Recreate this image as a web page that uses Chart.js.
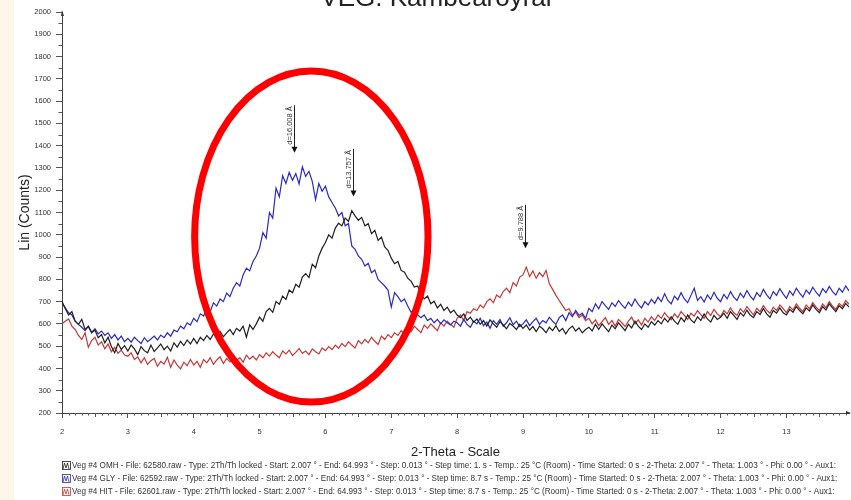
<!DOCTYPE html>
<html>
<head>
<meta charset="utf-8">
<script src="https://cdn.jsdelivr.net/npm/chart.js@4.4.0/dist/chart.umd.min.js"></script>
<style>
  html, body { margin: 0; padding: 0; background: #fff; }
</style>
</head>
<body>
<canvas id="xrdChart" width="851" height="500"></canvas>
<script>
// counts, one value every 0.05 deg 2-theta from 2.00 to 13.95
const omh = [
  700, 668, 640, 655, 612, 598, 620, 575, 588, 560, 572, 538, 552, 515, 540, 498, 470, 512, 485, 502,
  478, 505, 488, 462, 498, 480, 470, 505, 476, 492, 510, 484, 500, 478, 515, 496, 522, 503, 528, 510,
  535, 512, 540, 525, 548, 530, 555, 538, 566, 542, 560, 575, 552, 580, 568, 590, 540, 596, 575, 600,
  630, 612, 655, 670, 652, 700, 688, 725, 710, 752, 740, 778, 765, 810, 826, 808, 868, 852, 905, 940,
  965, 1000, 985, 1030, 1052, 1040, 1075, 1060, 1108, 1085, 1065, 1078, 1040, 1050, 1005, 1020, 975, 990, 945, 930,
  895, 870, 880, 840, 832, 805, 792, 765, 770, 735, 712, 725, 690, 702, 672, 688, 660, 675, 650, 662,
  640, 628, 645, 615, 630, 608, 622, 598, 615, 590, 618, 600, 585, 610, 595, 578, 602, 590, 575, 598,
  580, 595, 572, 588, 565, 590, 578, 560, 585, 570, 592, 566, 580, 555, 578, 590, 568, 582, 560, 575,
  585, 568, 598, 575, 600, 582, 565, 595, 578, 605, 588, 570, 598, 582, 612, 590, 575, 600, 585, 610,
  595, 615, 600, 625, 608, 632, 612, 598, 628, 610, 640, 618, 605, 632, 615, 645, 622, 608, 638, 620,
  630, 648, 625, 655, 638, 620, 650, 635, 662, 640, 628, 655, 642, 668, 645, 630, 660, 648, 672, 650,
  640, 665, 652, 678, 660, 645, 672, 658, 685, 665, 650, 678, 662, 690, 672, 655, 682, 668, 692, 675
];
const gly = [
  695, 672, 650, 640, 612, 598, 585, 570, 590, 562, 578, 555, 568, 548, 560, 535, 552, 528, 545, 520,
  535, 518, 540, 525, 512, 538, 520, 532, 545, 528, 550, 538, 560, 545, 572, 565, 590, 578, 605, 595,
  625, 610, 645, 635, 668, 655, 695, 680, 712, 700, 738, 722, 760, 785, 770, 820, 850, 838, 880, 905,
  940, 1010, 985, 1100, 1075, 1210, 1170, 1265, 1230, 1280, 1245, 1275, 1228, 1305, 1262, 1285, 1240, 1158, 1230, 1195,
  1218, 1170, 1145, 1120, 1085, 1100, 1040, 1050, 950, 935, 905, 890, 860, 872, 830, 842, 800, 785, 770, 752,
  675, 740, 722, 700, 712, 680, 652, 668, 640, 628, 640, 615, 625, 605, 620, 600, 618, 605, 595, 612,
  605, 590, 620, 598, 585, 612, 600, 625, 592, 608, 580, 615, 598, 620, 590, 605, 628, 596, 612, 588,
  600, 618, 592, 610, 625, 598, 615, 605, 630, 612, 598, 628, 640, 615, 650, 632, 660, 638, 648, 625,
  670, 655, 690, 668, 700, 682, 665, 695, 678, 705, 685, 670, 698, 680, 712, 688, 672, 700, 685, 710,
  692, 720, 700, 735, 705, 690, 725, 708, 740, 712, 695, 728, 760, 705, 722, 698, 730, 710, 742, 715,
  700, 732, 712, 745, 720, 705, 738, 718, 750, 725, 708, 740, 722, 755, 730, 712, 745, 728, 758, 735,
  715, 748, 728, 760, 738, 720, 752, 735, 765, 742, 725, 758, 740, 768, 745, 730, 760, 742, 770, 748
];
const hit = [
  600, 612, 622, 590, 575, 548, 530, 560, 495, 525, 540, 505, 520, 488, 510, 475, 495, 468, 482, 460,
  455, 470, 440, 452, 425, 448, 418, 435, 445, 410, 432, 420, 450, 405, 438, 415, 398, 428, 412, 440,
  415, 432, 405, 440, 425, 448, 418, 438, 452, 422, 445, 430, 455, 435, 448, 428, 460, 442, 455, 438,
  462, 448, 470, 455, 475, 460, 448, 478, 465, 482, 458, 472, 490, 468, 478, 462, 488, 475, 465, 492,
  480, 498, 485, 505, 490, 512, 498, 520, 505, 492, 525, 510, 530, 515, 540, 522, 508, 545, 530, 552,
  538, 560, 548, 570, 555, 582, 565, 590, 575, 560, 595, 580, 600, 585, 570, 605, 590, 612, 598, 585,
  625, 640, 615, 655, 648, 668, 660, 685, 672, 700, 712, 695, 730, 718, 745, 760, 740, 785, 770, 810,
  820, 855, 812, 838, 805, 830, 812, 840, 780, 755, 728, 705, 682, 660, 668, 640, 652, 628, 640, 615,
  625, 600, 618, 592, 610, 628, 598, 615, 590, 620, 605, 588, 612, 630, 600, 618, 595, 625, 608, 632,
  615, 640, 625, 650, 632, 618, 645, 628, 655, 638, 620, 648, 635, 660, 642, 625, 655, 638, 665, 645,
  632, 660, 645, 672, 650, 638, 668, 652, 678, 658, 640, 670, 655, 682, 662, 648, 675, 660, 685, 668,
  650, 678, 662, 690, 670, 655, 685, 668, 695, 675, 660, 690, 672, 700, 680, 665, 692, 678, 705, 688
];
const twoTheta = omh.map((_, i) => +(2 + i * 0.05).toFixed(2));

const seriesNames = [
  "Veg #4 OMH - File: 62580.raw - Type: 2Th/Th locked - Start: 2.007 ° - End: 64.993 ° - Step: 0.013 ° - Step time: 1. s - Temp.: 25 °C (Room) - Time Started: 0 s - 2-Theta: 2.007 ° - Theta: 1.003 ° - Phi: 0.00 ° - Aux1:",
  "Veg #4 GLY - File: 62592.raw - Type: 2Th/Th locked - Start: 2.007 ° - End: 64.993 ° - Step: 0.013 ° - Step time: 8.7 s - Temp.: 25 °C (Room) - Time Started: 0 s - 2-Theta: 2.007 ° - Theta: 1.003 ° - Phi: 0.00 ° - Aux1:",
  "Veg #4 HIT - File: 62601.raw - Type: 2Th/Th locked - Start: 2.007 ° - End: 64.993 ° - Step: 0.013 ° - Step time: 8.7 s - Temp.: 25 °C (Room) - Time Started: 0 s - 2-Theta: 2.007 ° - Theta: 1.003 ° - Phi: 0.00 ° - Aux1:"
];
const seriesColors = ["#1e1e1e", "#2a2ac4", "#c43838"];

const xTicks = [2, 3, 4, 5, 6, 7, 8, 9, 10, 11, 12, 13];
const yTicks = [200, 300, 400, 500, 600, 700, 800, 900, 1000, 1100, 1200, 1300, 1400, 1500, 1600, 1700, 1800, 1900, 2000];

// d-spacing markers: label, 2-theta, counts at arrow tip
const peakLabels = ["d=16.008 Å", "d=13.757 Å", "d=9.788 Å"];
const peakTheta = [5.516, 6.42, 9.03];
const peakTip = [1368, 1172, 940];

// hand-drawn red ring (centre and radii in data units)
const ring = { x: 5.786, y: 992, rx: 1.772, ry: 743 };

const FONT = "'Liberation Sans', Arial, sans-serif";

const decorations = {
  id: "decorations",
  beforeDraw(chart) {
    const { ctx, width, height } = chart;
    ctx.save();
    ctx.fillStyle = "#fff";
    ctx.fillRect(0, 0, width, height);
    ctx.fillStyle = "#fdf7ea";
    ctx.fillRect(0, 0, 14, height);
    ctx.restore();
  },
  afterDraw(chart) {
    const { ctx } = chart;
    const x = chart.scales.x, y = chart.scales.y;
    const bottom = chart.chartArea.bottom, left = chart.chartArea.left;
    ctx.save();

    // minor ticks
    ctx.strokeStyle = "#555";
    ctx.lineWidth = 1;
    ctx.beginPath();
    for (let k = 20; k < 140; k++) {
      if (k % 10 === 0) continue;
      const px = Math.round(x.getPixelForValue(k / 10)) + 0.5;
      const len = k % 5 === 0 ? 4 : 2.5;
      ctx.moveTo(px, bottom);
      ctx.lineTo(px, bottom + len);
    }
    for (let v = 250; v < 2000; v += 100) {
      const py = Math.round(y.getPixelForValue(v)) + 0.5;
      ctx.moveTo(left - 3.5, py);
      ctx.lineTo(left, py);
    }
    ctx.stroke();

    // axis arrow heads
    ctx.fillStyle = "#333";
    ctx.beginPath();
    ctx.moveTo(left, y.top - 2);
    ctx.lineTo(left + 2, y.top + 4);
    ctx.lineTo(left - 1, y.top + 4);
    ctx.fill();
    ctx.beginPath();
    ctx.moveTo(x.right + 2, bottom);
    ctx.lineTo(x.right - 3, bottom - 2);
    ctx.lineTo(x.right - 3, bottom + 1);
    ctx.fill();

    // d-spacing markers
    ctx.font = "7.5px " + FONT;
    peakLabels.forEach((txt, i) => {
      const px = Math.round(x.getPixelForValue(peakTheta[i])) + 0.5;
      const tip = y.getPixelForValue(peakTip[i]);
      const w = ctx.measureText(txt).width;
      ctx.strokeStyle = "#222";
      ctx.lineWidth = 1;
      ctx.beginPath();
      ctx.moveTo(px, tip - 6 - w - 3);
      ctx.lineTo(px, tip - 5);
      ctx.stroke();
      ctx.fillStyle = "#111";
      ctx.beginPath();
      ctx.moveTo(px, tip);
      ctx.lineTo(px - 3, tip - 6);
      ctx.lineTo(px + 3, tip - 6);
      ctx.fill();
      ctx.save();
      ctx.translate(px - 1, tip - 8);
      ctx.rotate(-Math.PI / 2);
      ctx.fillStyle = "#333";
      ctx.textAlign = "left";
      ctx.textBaseline = "bottom";
      ctx.fillText(txt, 0, 0);
      ctx.restore();
    });

    // red ring
    const cx = x.getPixelForValue(ring.x), cy = y.getPixelForValue(ring.y);
    const rx = x.getPixelForValue(ring.x + ring.rx) - cx;
    const ry = cy - y.getPixelForValue(ring.y + ring.ry);
    ctx.strokeStyle = "#ff0000";
    ctx.lineWidth = 7;
    ctx.beginPath();
    ctx.ellipse(cx, cy, rx, ry, 0, 0, Math.PI * 2);
    ctx.stroke();

    // legend lines under the axis
    ctx.lineWidth = 0.8;
    ctx.font = "8.15px " + FONT;
    ctx.textBaseline = "middle";
    chart.data.datasets.forEach((ds, i) => {
      const ly = 466 + 13 * i;
      ctx.strokeStyle = ds.borderColor;
      ctx.strokeRect(62.5, ly - 4.5, 8, 8);
      ctx.beginPath();
      ctx.moveTo(63, ly + 3);
      ctx.lineTo(64.5, ly - 3);
      ctx.lineTo(66, ly + 2);
      ctx.lineTo(67.5, ly - 3);
      ctx.lineTo(69, ly + 3);
      ctx.stroke();
      ctx.fillStyle = "#333";
      ctx.fillText(ds.label, 72, ly);
    });

    // title, cut by the top edge
    ctx.fillStyle = "#222";
    ctx.font = "26px " + FONT;
    ctx.textAlign = "center";
    ctx.textBaseline = "alphabetic";
    ctx.fillText("VEG. Kambearoyral", 436, 6);
    ctx.restore();
  }
};

const datasets = [omh, gly, hit].map((vals, i) => ({
  label: seriesNames[i],
  data: vals.map((v, j) => ({ x: twoTheta[j], y: v })),
  borderColor: seriesColors[i],
  borderWidth: 1.2,
  pointRadius: 0,
  tension: 0,
  fill: false
}));

new Chart(document.getElementById("xrdChart"), {
  type: "line",
  data: { datasets },
  plugins: [decorations],
  options: {
    responsive: false,
    animation: false,
    layout: { padding: { left: 17, top: 12, right: 2, bottom: 40 } },
    plugins: {
      legend: { display: false },
      tooltip: { enabled: false }
    },
    scales: {
      x: {
        type: "linear",
        min: 2,
        max: 13.95,
        afterFit: (s) => { s.height = 47; },
        afterBuildTicks: (s) => { s.ticks = xTicks.map((v) => ({ value: v })); },
        grid: { drawOnChartArea: false, tickLength: 5, tickColor: "#555" },
        border: { color: "#444", width: 1 },
        ticks: {
          color: "#333",
          font: { size: 7.5, family: FONT },
          padding: 9,
          maxRotation: 0,
          autoSkip: false,
          callback: (v) => String(v)
        },
        title: {
          display: true,
          text: "2-Theta - Scale",
          color: "#222",
          font: { size: 13, family: FONT },
          padding: 0
        }
      },
      y: {
        min: 200,
        max: 2000,
        afterFit: (s) => { s.width = 45; },
        afterBuildTicks: (s) => { s.ticks = yTicks.map((v) => ({ value: v })); },
        grid: { drawOnChartArea: false, tickLength: 6, tickColor: "#555" },
        border: { color: "#444", width: 1 },
        ticks: {
          color: "#333",
          font: { size: 7.5, family: FONT },
          padding: 5,
          autoSkip: false,
          callback: (v) => String(v)
        },
        title: {
          display: true,
          text: "Lin (Counts)",
          color: "#222",
          font: { size: 14, family: FONT },
          padding: 0
        }
      }
    }
  }
});
</script>
</body>
</html>
